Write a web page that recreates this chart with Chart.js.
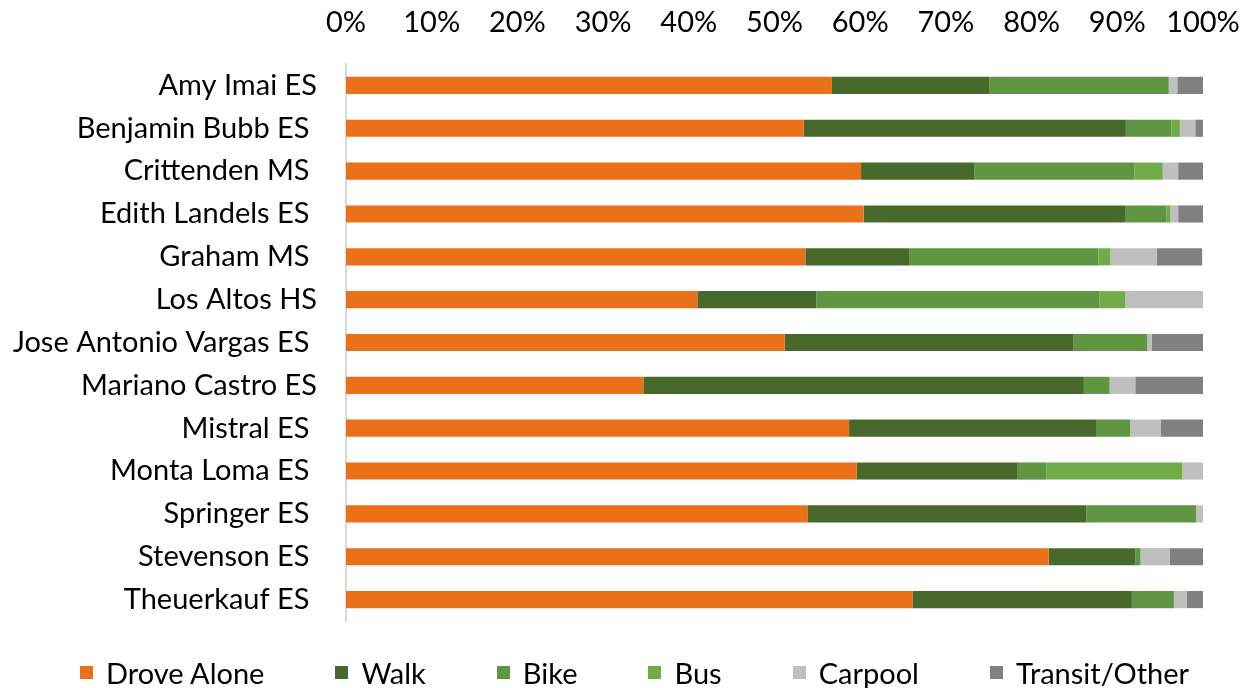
<!DOCTYPE html>
<html>
<head>
<meta charset="utf-8">
<script src="https://cdn.jsdelivr.net/npm/chart.js@4.4.1/dist/chart.umd.min.js"></script>
<style>
  html, body { margin: 0; padding: 0; background: #fff; overflow: hidden; }
  #wrap { width: 1256px; height: 688px; position: relative; overflow: hidden; }
  #legend {
    position: absolute; left: 80px; top: 656px; height: 32px;
    display: flex; align-items: center; gap: 71px;
    font-family: Lato, 'Open Sans', sans-serif; font-size: 29px; color: #000;
    white-space: nowrap;
  }
  #legend .item { display: flex; align-items: center; }
  #legend .box { width: 13px; height: 13px; margin-right: 13px; }
</style>
</head>
<body>
<div id="wrap"><canvas id="chart"></canvas><div id="legend"></div></div>
<script>
// school names (trailing spaces kept as in the source sheet)
const schools = ['Amy Imai ES', 'Benjamin Bubb ES ', 'Crittenden MS ', 'Edith Landels ES ', 'Graham MS ',
    'Los Altos HS', 'Jose Antonio Vargas ES ', 'Mariano Castro ES', 'Mistral ES ', 'Monta Loma ES ',
    'Springer ES ', 'Stevenson ES ', 'Theuerkauf ES '];

// share of trips, percent
const droveAlone = [56.7, 53.4, 60.1, 60.4, 53.6, 41.0, 51.2, 34.7, 58.7, 59.6, 53.9, 82.0, 66.1];
const walk       = [18.4, 37.6, 13.2, 30.5, 12.1, 13.9, 33.7, 51.4, 28.9, 18.7, 32.5, 10.1, 25.6];
const bike       = [20.9,  5.3, 18.7,  4.8, 22.1, 33.0,  8.6,  3.0,  3.9,  3.4, 12.8,  0.6,  4.9];
const bus        = [ 0.0,  1.0,  3.3,  0.5,  1.4,  3.0,  0.0,  0.0,  0.0, 15.9,  0.0,  0.0,  0.0];
const carpool    = [ 1.0,  1.8,  1.8,  0.9,  5.4,  9.1,  0.5,  3.0,  3.6,  2.5,  0.8,  3.4,  1.5];
const transit    = [ 3.0,  0.9,  3.0,  3.0,  5.3,  0.0,  6.0,  7.9,  5.0,  0.0,  0.0,  3.9,  2.0];

const xTicks = [0, 10, 20, 30, 40, 50, 60, 70, 80, 90, 100];

const font = "Lato, 'Open Sans', sans-serif";

function series(label, data, color) {
    return {
        label: label,
        data: data,
        backgroundColor: color,
        borderWidth: 0,
        barPercentage: 0.8,
        categoryPercentage: 0.5
    };
}

// legend drawn as html under the plot, built from the chart's datasets
const htmlLegend = {
    id: 'htmlLegend',
    afterUpdate(chart) {
        const box = document.getElementById('legend');
        box.innerHTML = '';
        chart.data.datasets.forEach(ds => {
            const item = document.createElement('div');
            item.className = 'item';
            const sw = document.createElement('span');
            sw.className = 'box';
            sw.style.background = ds.backgroundColor;
            const txt = document.createElement('span');
            txt.textContent = ds.label;
            item.appendChild(sw);
            item.appendChild(txt);
            box.appendChild(item);
        });
    }
};

const ctx = document.getElementById('chart').getContext('2d');
const chart = new Chart(ctx, {
    type: 'bar',
    data: {
        labels: schools,
        datasets: [
            series('Drove Alone', droveAlone, '#EB701A'),
            series('Walk', walk, '#476A2C'),
            series('Bike', bike, '#609641'),
            series('Bus', bus, '#70AD47'),
            series('Carpool', carpool, '#BFBFBF'),
            series('Transit/Other', transit, '#808080')
        ]
    },
    options: {
        indexAxis: 'y',
        responsive: true,
        maintainAspectRatio: false,
        animation: false,
        layout: { padding: { left: 0, right: 53, top: 4, bottom: 67 } },
        scales: {
            x: {
                position: 'top',
                stacked: true,
                min: 0,
                max: 100,
                afterBuildTicks: function(scale) {
                    scale.ticks = xTicks.map(v => ({ value: v }));
                },
                afterFit: function(scale) {
                    scale.height = 60;
                    scale.paddingLeft = 0;
                    scale.paddingRight = 0;
                },
                grid: { display: false, drawTicks: false },
                border: { display: false },
                ticks: {
                    padding: 24,
                    color: '#000',
                    font: { family: font, size: 29 },
                    callback: v => v + '%'
                }
            },
            y: {
                stacked: true,
                afterFit: function(scale) { scale.width = 346; },
                grid: { display: false, drawTicks: false },
                border: { display: true, color: '#D9D9D9', width: 2 },
                ticks: {
                    padding: 29,
                    color: '#000',
                    font: { family: font, size: 29 }
                }
            }
        },
        plugins: {
            tooltip: { enabled: false },
            legend: { display: false }
        }
    },
    plugins: [htmlLegend]
});
</script>
</body>
</html>
